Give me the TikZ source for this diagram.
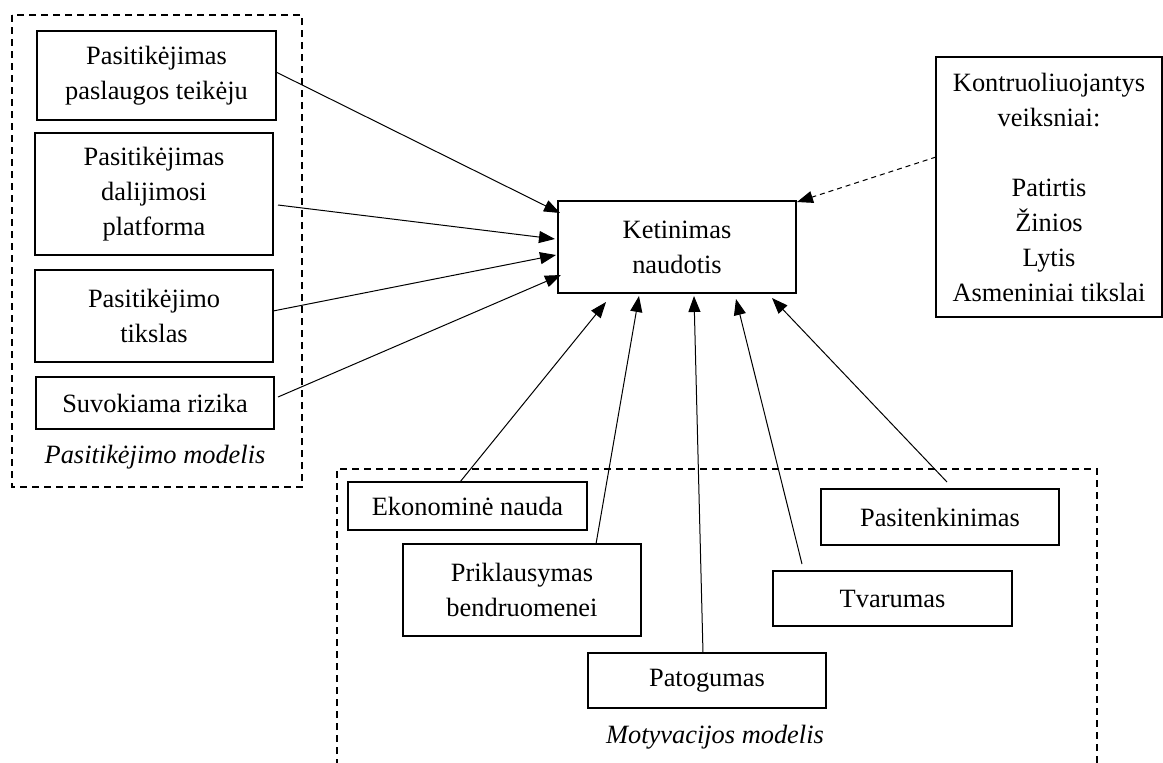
\documentclass[tikz,border=0pt]{standalone}
\usepackage{fontspec}
\setmainfont{Liberation Serif}
\usetikzlibrary{arrows.meta,calc}
\begin{document}
\begin{tikzpicture}[x=0.5pt,y=-0.5pt,
  font=\fontsize{13.2}{17.5}\selectfont,
  box/.style={draw, line width=0.6pt, inner sep=0pt, outer sep=0pt, align=center},
  frame/.style={draw, line width=0.8pt, dash pattern=on 3.5pt off 2.5pt},
  arr/.style={line width=0.5pt, -{Triangle[length=8pt,width=6pt]}},
  darr/.style={line width=0.5pt, dash pattern=on 2.5pt off 2pt, -{Triangle[length=8pt,width=6pt]}},
  lbl/.style={font=\fontsize{13.2}{17.5}\selectfont\itshape, inner sep=0pt}]
\useasboundingbox (0,0) rectangle (1163,762);
% left frame
\draw[frame] (12,15) rectangle (302,487);
\node[box, minimum width=119.5pt, minimum height=44.5pt] (b1) at (156.5,75.5) {Pasitikėjimas\\paslaugos teikėju};
\node[box, minimum width=119pt, minimum height=61pt] (b2) at (154,194) {Pasitikėjimas\\dalijimosi\\platforma};
\node[box, minimum width=119pt, minimum height=46pt] (b3) at (154,316) {Pasitikėjimo\\tikslas};
\node[box, minimum width=119pt, minimum height=26pt] (b4) at (155,403) {Suvokiama rizika};
\node[lbl] (l1) at (155,457) {Pasitikėjimo modelis};
% center
\node[box, minimum width=119pt, minimum height=46pt] (c) at (677,247) {Ketinimas\\naudotis};
% right
\node[box, minimum width=113pt, minimum height=130pt] (r) at (1049,187) {Kontruoliuojantys\\veiksniai:\\[17.5pt]Patirtis\\Žinios\\Lytis\\Asmeniniai tikslai};
% bottom frame
\draw[frame] (337,766) -- (337,469) -- (1097,469) -- (1097,766);
\node[box, minimum width=119.5pt, minimum height=24pt] (ek) at (467.5,506) {Ekonominė nauda};
\node[box, minimum width=119pt, minimum height=46pt] (pr) at (522,590) {Priklausymas\\bendruomenei};
\node[box, minimum width=119pt, minimum height=27.5pt] (pa) at (707,680.5) {Patogumas};
\node[box, minimum width=119.5pt, minimum height=27.5pt] (tv) at (892.5,598.5) {Tvarumas};
\node[box, minimum width=119pt, minimum height=28pt] (ps) at (940,517) {Pasitenkinimas};
\node[lbl] (l2) at (715,737) {Motyvacijos modelis};
% arrows
\draw[arr] ($(b1.east)+(0,-3.5)$) -- ($(c.north west)+(2,12)$);
\draw[arr] ($(b2.east)+(5,11)$) -- ($(c.west)+(-3,-8)$);
\draw[arr] ($(b3.east)+(0,-5)$) -- ($(c.west)+(-2,8)$);
\draw[arr] ($(b4.east)+(4,-6)$) -- ($(c.south west)+(3,-18)$);
\draw[arr] ($(ek.north)+(-7.5,0)$) -- ($(c.south west)+(48,9)$);
\draw[arr] ($(pr.north)+(74,0)$) -- ($(c.south west)+(81,3)$);
\draw[arr] ($(pa.north)+(-4,0)$) -- ($(c.south)+(17,3)$);
\draw[arr] ($(tv.north)+(-90.5,-7)$) -- ($(c.south east)+(-60,6)$);
\draw[arr] ($(ps.north)+(7,-7)$) -- ($(c.south east)+(-24,5)$);
\draw[darr] ($(r.west)+(0,-30)$) -- ($(c.north east)+(1,1)$);
\end{tikzpicture}
\end{document}
